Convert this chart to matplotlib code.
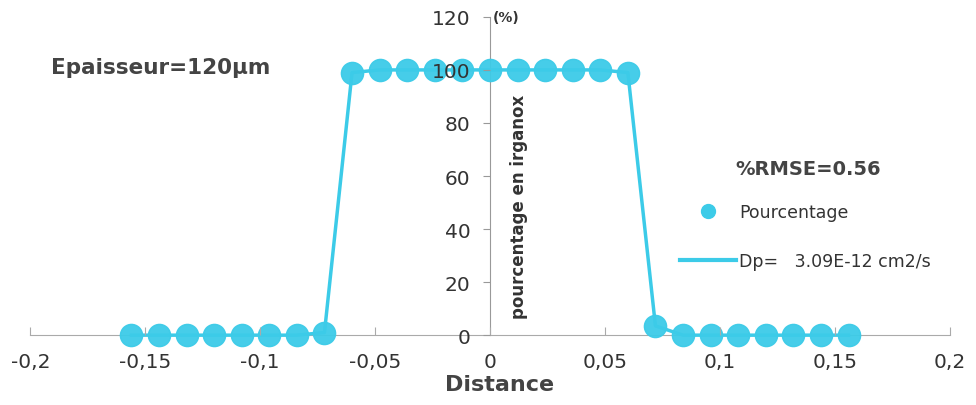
import numpy as np
import matplotlib
matplotlib.use("Agg")
import matplotlib.pyplot as plt
from matplotlib.ticker import FuncFormatter
from matplotlib.lines import Line2D

# mesures (distance en mm, pourcentage en irganox)
distance = [-0.156, -0.144, -0.132, -0.120, -0.108, -0.096, -0.084, -0.072,
            -0.060, -0.048, -0.036, -0.024, -0.012, 0.0, 0.012, 0.024, 0.036, 0.048, 0.060,
            0.072, 0.084, 0.096, 0.108, 0.120, 0.132, 0.144, 0.156]
pourcentage = [0, 0, 0, 0, 0, 0, 0, 1,
               99, 100, 100, 100, 100, 100, 100, 100, 100, 100, 99,
               3.5, 0, 0, 0, 0, 0, 0, 0]
modele = [0, 0, 0, 0, 0, 0, 0, 1,
          99, 100, 100, 100, 100, 100, 100, 100, 100, 100, 99,
          3.5, 0, 0, 0, 0, 0, 0, 0]

xticks = [-0.2, -0.15, -0.1, -0.05, 0, 0.05, 0.1, 0.15, 0.2]
yticks = [0, 20, 40, 60, 80, 100, 120]

col = '#3ccbe8'
txt = '#333333'

fig = plt.figure(figsize=(9.76, 4.06), dpi=100)
ax = fig.add_axes([0.031, 0.172, 0.942, 0.784])
ax.set_axisbelow(False)  # etiquettes d'axes au-dessus des points

ax.plot(distance, modele, color=col, lw=2.5, zorder=2.0, clip_on=False)
ax.plot(distance, pourcentage, 'o', color=col, ms=16, alpha=0.95, zorder=2.2,
        clip_on=False)

ax.set_xlim(-0.2, 0.2)
ax.set_ylim(0, 120)
ax.set_xticks(xticks)
ax.set_yticks(yticks)
fmt = FuncFormatter(lambda v, p: ('%g' % v).replace('.', ','))
ax.xaxis.set_major_formatter(fmt)

for s in ['top', 'right']:
    ax.spines[s].set_visible(False)
ax.spines['left'].set_position(('data', 0))
ax.spines['left'].set_color('#999999')
ax.spines['left'].set_zorder(1.5)
ax.spines['bottom'].set_color('#aaaaaa')
ax.spines['bottom'].set_zorder(1.5)
ax.tick_params(axis='x', direction='in', length=6, color='#aaaaaa',
               labelsize=14.5, labelcolor=txt, pad=12)
ax.tick_params(axis='y', direction='out', length=5, color='#999999',
               labelsize=14.5, labelcolor=txt, pad=9)

ax.text(0.0126, 48.7, 'pourcentage en irganox', rotation=90, fontsize=12,
        fontweight='bold', color=txt, ha='center', va='center')
ax.text(0.001, 120, '(%)', fontsize=10, fontweight='bold', color=txt,
        ha='left', va='center')
fig.text(0.512, 0.052, 'Distance', fontsize=16, fontweight='bold', color='#444444',
         ha='center', va='center')

fig.text(0.052, 0.832, 'Epaisseur=120\u00b5m', fontsize=15.5, fontweight='bold',
         color='#444444', ha='left', va='center')
fig.text(0.753, 0.582, '%RMSE=0.56', fontsize=14, fontweight='bold',
         color='#444444', ha='left', va='center')

handles = [Line2D([], [], ls='none', marker='o', ms=10, color=col),
           Line2D([], [], color=col, lw=3)]
fig.legend(handles, ['Pourcentage', 'Dp=   3.09E-12 cm2/s'], loc='upper left',
           bbox_to_anchor=(0.697, 0.497), frameon=False, fontsize=12.5,
           handlelength=3.2, handletextpad=0.2, labelspacing=1.8,
           borderpad=0, borderaxespad=0, labelcolor=txt)

fig.savefig('out.png', dpi=100)
